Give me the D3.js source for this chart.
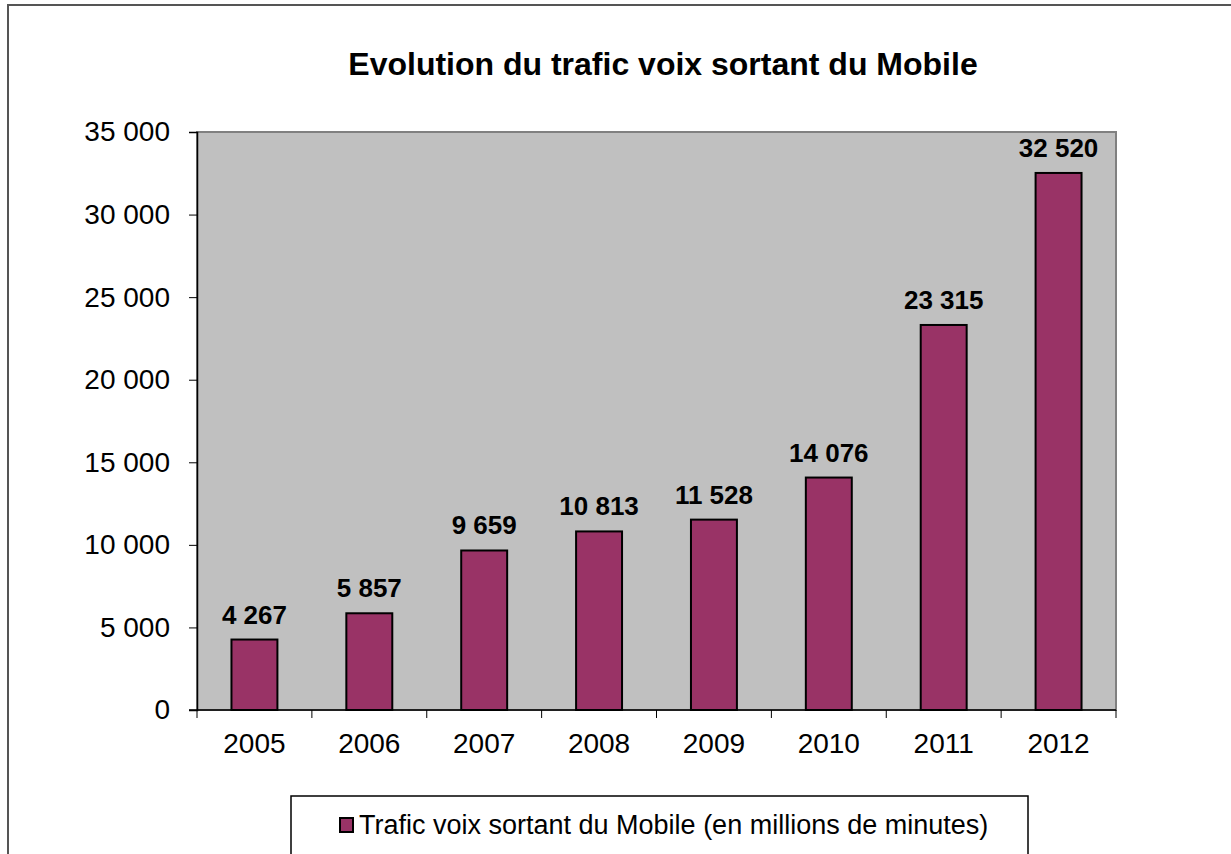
<!DOCTYPE html>
<html>
<head>
<meta charset="utf-8">
<script src="https://cdn.jsdelivr.net/npm/d3@7"></script>
<style>
  body { margin: 0; background: #fff; }
  svg { display: block; font-family: Arial, "Liberation Sans", sans-serif; }
</style>
</head>
<body>
<svg id="chart" width="1231" height="854"></svg>
<script>
const years = ["2005", "2006", "2007", "2008", "2009", "2010", "2011", "2012"];
const trafic = [4267, 5857, 9659, 10813, 11528, 14076, 23315, 32520];
const yTicks = [0, 5000, 10000, 15000, 20000, 25000, 30000, 35000];

const svg = d3.select("#chart");
const plot = { left: 197, right: 1116, top: 132, bottom: 710 };

// numbers with a space as thousands separator
const fmt = d3.formatLocale({ decimal: ",", thousands: " ", grouping: [3], currency: ["", ""] }).format(",d");

// outer chart frame
svg.append("rect")
    .attr("x", 8).attr("y", 5)
    .attr("width", 1240).attr("height", 870)
    .attr("fill", "#fff")
    .attr("stroke", "#555").attr("stroke-width", 2);

svg.append("text")
    .attr("x", 663).attr("y", 75)
    .attr("text-anchor", "middle")
    .attr("font-size", 32).attr("font-weight", "bold")
    .text("Evolution du trafic voix sortant du Mobile");

const x = d3.scaleBand()
    .domain(years)
    .range([plot.left, plot.right])
    .paddingInner(0.6).paddingOuter(0.3);

const y = d3.scaleLinear()
    .domain([0, 35000])
    .range([plot.bottom, plot.top]);

// grey plot area
svg.append("rect")
    .attr("x", plot.left).attr("y", plot.top)
    .attr("width", plot.right - plot.left).attr("height", plot.bottom - plot.top)
    .attr("fill", "#c0c0c0")
    .attr("stroke", "#808080").attr("stroke-width", 2);

svg.selectAll(".bar")
    .data(trafic)
    .enter().append("rect")
    .attr("class", "bar")
    .attr("x", (d, i) => x(years[i]))
    .attr("y", d => y(d))
    .attr("width", x.bandwidth())
    .attr("height", d => y(0) - y(d))
    .attr("fill", "#993366")
    .attr("stroke", "#000").attr("stroke-width", 2);

svg.selectAll(".val")
    .data(trafic)
    .enter().append("text")
    .attr("class", "val")
    .attr("x", (d, i) => x(years[i]) + x.bandwidth() / 2)
    .attr("y", d => y(d) - 16)
    .attr("text-anchor", "middle")
    .attr("font-size", 26).attr("font-weight", "bold")
    .text(d => fmt(d));

// y axis
const yAxis = svg.append("g")
    .attr("transform", `translate(${plot.left},0)`)
    .call(d3.axisLeft(y).tickValues(yTicks).tickFormat(fmt).tickSize(8).tickPadding(19));
yAxis.select(".domain").attr("stroke", "#000").attr("stroke-width", 1.5);
yAxis.selectAll(".tick line").attr("stroke", "#000");
yAxis.selectAll(".tick text").attr("font-size", 28).attr("fill", "#000")
    .attr("font-family", "Arial, 'Liberation Sans', sans-serif");

// x axis, ticks sit between categories
const xAxis = svg.append("g")
    .attr("transform", `translate(0,${plot.bottom})`);
xAxis.append("line")
    .attr("x1", plot.left - 8).attr("x2", plot.right)
    .attr("stroke", "#000").attr("stroke-width", 1.5);
const step = (plot.right - plot.left) / years.length;
xAxis.selectAll(".xt")
    .data(d3.range(years.length + 1))
    .enter().append("line")
    .attr("x1", i => plot.left + i * step).attr("x2", i => plot.left + i * step)
    .attr("y1", 0).attr("y2", 8)
    .attr("stroke", "#000");
xAxis.selectAll(".xl")
    .data(years)
    .enter().append("text")
    .attr("x", d => x(d) + x.bandwidth() / 2)
    .attr("y", 43)
    .attr("text-anchor", "middle")
    .attr("font-size", 28)
    .text(d => d);

// legend
svg.append("rect")
    .attr("x", 291).attr("y", 796)
    .attr("width", 737).attr("height", 80)
    .attr("fill", "#fff")
    .attr("stroke", "#000").attr("stroke-width", 1.5);
svg.append("rect")
    .attr("x", 340).attr("y", 818)
    .attr("width", 13).attr("height", 14)
    .attr("fill", "#993366")
    .attr("stroke", "#000").attr("stroke-width", 2);
svg.append("text")
    .attr("x", 359).attr("y", 834)
    .attr("font-size", 27)
    .text("Trafic voix sortant du Mobile (en millions de minutes)");
</script>
</body>
</html>
